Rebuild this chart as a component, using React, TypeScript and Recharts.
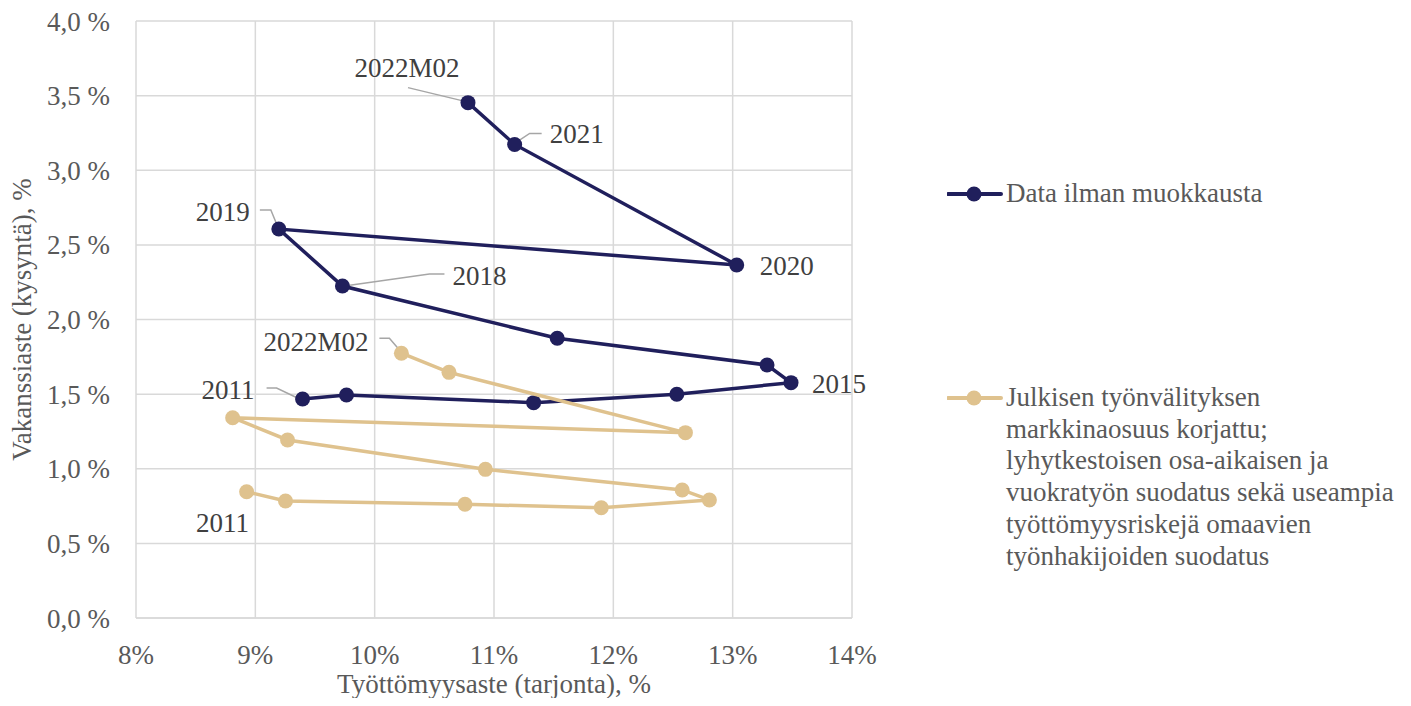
import React from "react";
import { CartesianGrid, Scatter, ScatterChart, XAxis, YAxis } from "recharts";

// Data ilman muokkausta (2011 -> 2022M02)
const rawUnemployment = [9.396, 9.764, 11.332, 12.532, 13.489, 13.288, 11.53, 9.73, 9.197, 13.034, 11.173, 10.782];
const rawVacancy = [1.467, 1.494, 1.443, 1.499, 1.577, 1.695, 1.874, 2.224, 2.606, 2.365, 3.173, 3.453];
const rawLabels = ["2011", "", "", "", "2015", "", "", "2018", "2019", "2020", "2021", "2022M02"];

// Korjattu sarja
const adjUnemployment = [8.927, 9.253, 10.757, 11.899, 12.805, 12.577, 10.928, 9.27, 8.81, 12.604, 10.623, 10.224];
const adjVacancy = [0.846, 0.784, 0.762, 0.739, 0.791, 0.858, 0.996, 1.193, 1.342, 1.242, 1.646, 1.774];
const adjLabels = ["2011", "", "", "", "", "", "", "", "", "", "", "2022M02"];

const xTicks = [8, 9, 10, 11, 12, 13, 14];
const yTicks = [0, 0.5, 1, 1.5, 2, 2.5, 3, 3.5, 4];

const rawName = "Data ilman muokkausta";
const adjName =
    "Julkisen työnvälityksen\nmarkkinaosuus korjattu;\nlyhytkestoisen osa-aikaisen ja\nvuokratyön suodatus sekä useampia\ntyöttömyysriskejä omaavien\ntyönhakijoiden suodatus";

const DARK = "#201F5C";
const TAN = "#DFC28E";
const FONT = "Liberation Serif, Tinos, Times New Roman, DejaVu Serif, serif";

type LabelPos = { dx: number; dy: number; anchor: "start" | "middle" | "end"; leader?: number[][] };

// label placement relative to its point
const rawLabelPos: Record<string, LabelPos> = {
    "2011": { dx: -48, dy: 0, anchor: "end", leader: [[-36, -11], [-26, -11], [-3, 0]] },
    "2015": { dx: 21, dy: 10, anchor: "start" },
    "2018": { dx: 110, dy: -1, anchor: "start", leader: [[102, -12], [87, -12], [2, 0]] },
    "2019": { dx: -29, dy: -8, anchor: "end", leader: [[-19, -19], [-8, -19], [-1, -2]] },
    "2020": { dx: 23, dy: 10, anchor: "start" },
    "2021": { dx: 35, dy: -1, anchor: "start", leader: [[27, -11], [15, -11], [0, -1]] },
    "2022M02": { dx: -61, dy: -26, anchor: "middle", leader: [[-60, -15], [-2, -1]] },
};
const adjLabelPos: Record<string, LabelPos> = {
    "2011": { dx: -24, dy: 40, anchor: "middle" },
    "2022M02": { dx: -33, dy: -2, anchor: "end", leader: [[-22, -15], [-12, -15], [0, -1]] },
};

const rawData = rawUnemployment.map((x, i) => ({ x, y: rawVacancy[i], label: rawLabels[i] }));
const adjData = adjUnemployment.map((x, i) => ({ x, y: adjVacancy[i], label: adjLabels[i] }));

const makeShape = (color: string, positions: Record<string, LabelPos>) => (props: any) => {
    const { cx, cy, payload } = props;
    const pos = payload && payload.label ? positions[payload.label] : undefined;
    return (
        <g>
            {pos && pos.leader && (
                <polyline
                    points={pos.leader.map(([a, b]) => `${cx + a},${cy + b}`).join(" ")}
                    fill="none"
                    stroke="#A6A6A6"
                    strokeWidth={1.5}
                />
            )}
            <circle cx={cx} cy={cy} r={7.5} fill={color} />
            {pos && (
                <text
                    x={cx + pos.dx}
                    y={cy + pos.dy}
                    textAnchor={pos.anchor}
                    style={{ fontFamily: FONT }}
                    fontSize={27}
                    fill="#404040"
                >
                    {payload.label}
                </text>
            )}
        </g>
    );
};

const formatX = (v: number) => `${v}%`;
const formatY = (v: number) => `${v.toFixed(1).replace(".", ",")} %`;

const LegendRow = ({ color, text, top }: { color: string; text: string; top: number }) => (
    <div style={{ position: "absolute", left: 939, top, display: "flex", alignItems: "flex-start" }}>
        <svg width={59} height={32} style={{ flex: "none" }}>
            <line x1={1} y1={16} x2={54} y2={16} stroke={color} strokeWidth={4} strokeLinecap="round" />
            <circle cx={27} cy={16} r={7.5} fill={color} />
        </svg>
        <div style={{ fontFamily: FONT, fontSize: 27, lineHeight: "31.7px", color: "#595959", whiteSpace: "nowrap" }}>
            {text.split("\n").map((line, i) => (
                <div key={i}>{line}</div>
            ))}
        </div>
    </div>
);

export default function App() {
    const tickStyle = { fontFamily: FONT, fontSize: 27, fill: "#595959" };
    return (
        <div style={{ position: "relative", width: 1400, height: 690, fontFamily: FONT }}>
            <ScatterChart
                width={1400}
                height={690}
                margin={{ top: 13, right: 556, bottom: 0, left: 0 }}
                style={{ fontFamily: FONT }}
            >
                <CartesianGrid stroke="#D9D9D9" strokeWidth={1.5} />
                <XAxis
                    type="number"
                    dataKey="x"
                    domain={[8, 14]}
                    ticks={xTicks}
                    tickFormatter={formatX}
                    tick={tickStyle}
                    tickLine={false}
                    tickSize={0}
                    tickMargin={27}
                    axisLine={{ stroke: "#D9D9D9", strokeWidth: 1.5 }}
                    height={80}
                    interval={0}
                    label={{
                        content: (p: any) => (
                            <text
                                x={p.viewBox.x + p.viewBox.width / 2}
                                y={685}
                                textAnchor="middle"
                                style={{ fontFamily: FONT }}
                                fontSize={27}
                                fill="#595959"
                            >
                                Työttömyysaste (tarjonta), %
                            </text>
                        ),
                    }}
                />
                <YAxis
                    type="number"
                    dataKey="y"
                    domain={[0, 4]}
                    ticks={yTicks}
                    tickFormatter={formatY}
                    tick={tickStyle}
                    tickLine={false}
                    tickSize={0}
                    tickMargin={26}
                    axisLine={false}
                    width={128}
                    interval={0}
                    label={{
                        content: (p: any) => {
                            const cx = 14;
                            const cy = p.viewBox.y + p.viewBox.height / 2;
                            return (
                                <text
                                    x={cx}
                                    y={cy}
                                    transform={`rotate(-90 ${cx} ${cy})`}
                                    textAnchor="middle"
                                    dominantBaseline="central"
                                    style={{ fontFamily: FONT }}
                                    fontSize={27}
                                    fill="#595959"
                                >
                                    Vakanssiaste (kysyntä), %
                                </text>
                            );
                        },
                    }}
                />
                <Scatter
                    name={rawName}
                    data={rawData}
                    line={{ stroke: DARK, strokeWidth: 3.5 }}
                    lineType="joint"
                    fill={DARK}
                    shape={makeShape(DARK, rawLabelPos)}
                    isAnimationActive={false}
                />
                <Scatter
                    name={adjName}
                    data={adjData}
                    line={{ stroke: TAN, strokeWidth: 3.5 }}
                    lineType="joint"
                    fill={TAN}
                    shape={makeShape(TAN, adjLabelPos)}
                    isAnimationActive={false}
                />
            </ScatterChart>
            <LegendRow color={DARK} text={rawName} top={170} />
            <LegendRow color={TAN} text={adjName} top={374} />
        </div>
    );
}
